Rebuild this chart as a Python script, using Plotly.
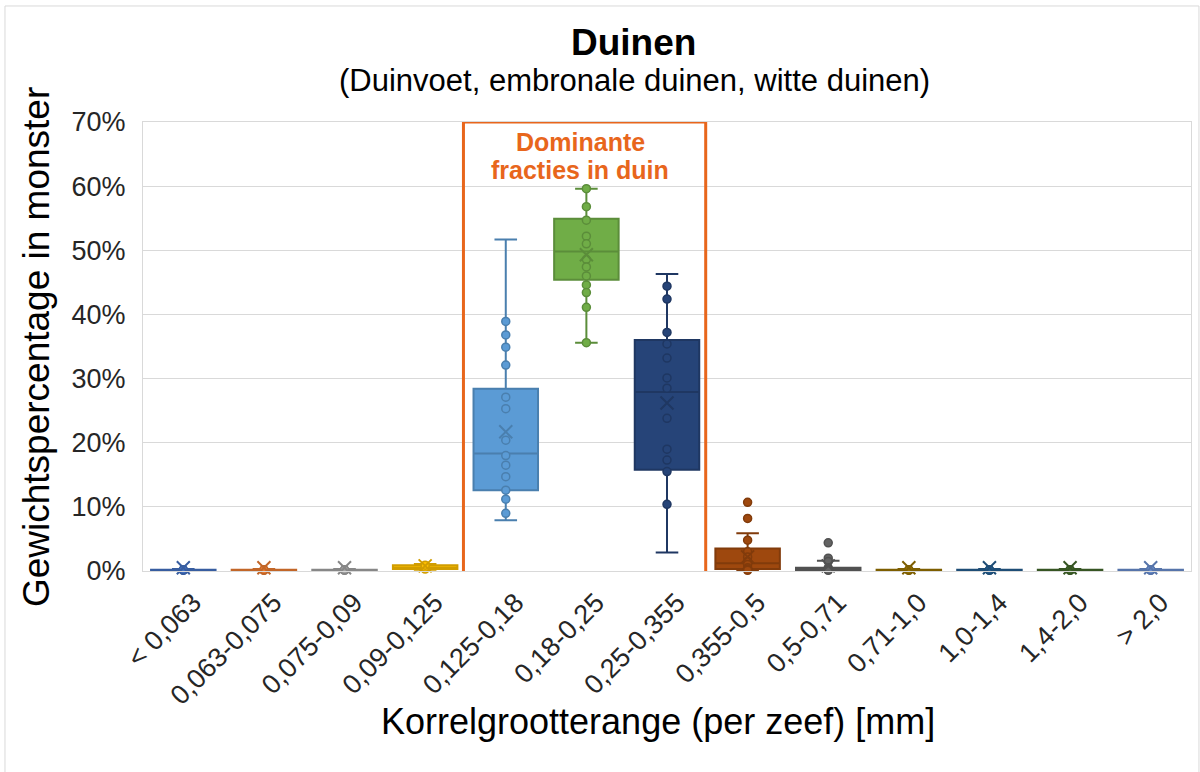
import plotly.graph_objects as go

categories = ["< 0,063", "0,063-0,075", "0,075-0,09", "0,09-0,125", "0,125-0,18",
              "0,18-0,25", "0,25-0,355", "0,355-0,5", "0,5-0,71", "0,71-1,0",
              "1,0-1,4", "1,4-2,0", "> 2,0"]
colors = ["#4472C4", "#ED7D31", "#A5A5A5", "#FFC000", "#5B9BD5", "#70AD47", "#264478",
          "#9E480E", "#636363", "#997300", "#255E91", "#43682B", "#698ED0"]

# box statistics (fraction of weight)
lower_whisker = [0.0, 0.0, 0.0, 0.002, 0.079, 0.356, 0.029, 0.0, 0.0, 0.0, 0.0, 0.0, 0.0]
q1 = [0.0008, 0.0008, 0.0008, 0.003, 0.126, 0.454, 0.158, 0.003, 0.0008, 0.0008, 0.0008, 0.0008, 0.0008]
median = [0.0012, 0.0012, 0.0012, 0.005, 0.183, 0.498, 0.279, 0.012, 0.002, 0.0012, 0.0012, 0.0012, 0.0012]
q3 = [0.0018, 0.0018, 0.0018, 0.009, 0.284, 0.549, 0.360, 0.035, 0.005, 0.0018, 0.0018, 0.0018, 0.0018]
upper_whisker = [0.003, 0.003, 0.003, 0.011, 0.517, 0.596, 0.463, 0.059, 0.016, 0.003, 0.003, 0.003, 0.003]
means = [0.005, 0.005, 0.005, 0.008, 0.217, 0.493, 0.262, 0.022, 0.008, 0.005, 0.005, 0.005, 0.005]

points = [
    [0.001, 0.0015, 0.002],
    [0.001, 0.0015, 0.002],
    [0.001, 0.0015, 0.002],
    [0.003, 0.006, 0.009],
    [0.389, 0.368, 0.349, 0.321, 0.271, 0.253, 0.204, 0.180, 0.165, 0.147, 0.126, 0.112, 0.090],
    [0.596, 0.568, 0.547, 0.522, 0.510, 0.486, 0.474, 0.460, 0.446, 0.434, 0.411, 0.356],
    [0.444, 0.424, 0.372, 0.354, 0.332, 0.301, 0.285, 0.238, 0.190, 0.173, 0.155, 0.104],
    [0.107, 0.082, 0.048, 0.030, 0.022, 0.015, 0.010, 0.005, 0.003, 0.001],
    [0.044, 0.020, 0.015, 0.005, 0.003, 0.002, 0.001],
    [0.001, 0.0015, 0.002],
    [0.001, 0.0015, 0.002],
    [0.001, 0.0015, 0.002],
    [0.001, 0.0015, 0.002],
]


def darken(hexcol, f=0.8):
    h = hexcol.lstrip("#")
    r, g, b = (int(h[i:i + 2], 16) for i in (0, 2, 4))
    return "#%02X%02X%02X" % (int(r * f), int(g * f), int(b * f))


FONT = "Liberation Sans, Arial, sans-serif"
TXT = "#262626"
ORANGE = "#E8661C"

fig = go.Figure()
for i, cat in enumerate(categories):
    c = colors[i]
    d = darken(c, 0.82)
    fig.add_trace(go.Box(
        x=[cat], q1=[q1[i]], median=[median[i]], q3=[q3[i]],
        lowerfence=[lower_whisker[i]], upperfence=[upper_whisker[i]],
        boxpoints=False, fillcolor=c, line=dict(color=d, width=2),
        whiskerwidth=0.35, width=0.8, showlegend=False, hoverinfo="skip",
    ))
    fig.add_trace(go.Scatter(
        x=[cat] * len(points[i]), y=points[i], mode="markers",
        marker=dict(size=8, color=c, line=dict(color=d, width=1.5)),
        showlegend=False, cliponaxis=False, hoverinfo="skip",
    ))
    fig.add_trace(go.Scatter(
        x=[cat], y=[means[i]], mode="markers",
        marker=dict(symbol="x-thin-open", size=13, color=d, line=dict(color=d, width=2)),
        showlegend=False, cliponaxis=False, hoverinfo="skip",
    ))

# highlight rectangle
fig.add_shape(type="rect", xref="x", yref="y", x0=3.475, x1=6.48, y0=-0.006, y1=0.7,
              line=dict(color=ORANGE, width=3), fillcolor="rgba(0,0,0,0)", layer="above")
# outer chart border
fig.add_shape(type="rect", xref="paper", yref="paper", x0=-0.1317, x1=1.0076, y0=-0.5, y1=1.2584,
              line=dict(color="#D9D9D9", width=1), fillcolor="rgba(0,0,0,0)", layer="below")


def label(text, x, y, size, color=TXT, angle=0):
    fig.add_annotation(text=text, xref="paper", yref="paper", x=x, y=y, xanchor="center",
                       yanchor="middle", showarrow=False, textangle=angle,
                       font=dict(family=FONT, size=size, color=color))


label("<b>Dominante</b>", 0.417, 0.9555, 25, ORANGE)
label("<b>fracties in duin</b>", 0.417, 0.893, 25, ORANGE)
label("<b>Duinen</b>", 0.4676, 1.178, 37, "#000000")
label("(Duinvoet, embronale duinen, witte duinen)", 0.469, 1.0935, 31, "#000000")
label("Gewichtspercentage in monster", -0.1011, 0.4989, 37, "#000000", -90)
label("Korrelgrootterange (per zeef) [mm]", 0.4914, -0.3363, 36, "#000000")

fig.update_layout(
    width=1200, height=772,
    margin=dict(l=143, r=9, t=122, b=201),
    paper_bgcolor="white", plot_bgcolor="white",
    boxmode="overlay",
    font=dict(family=FONT, color=TXT),
    xaxis=dict(type="category", categoryorder="array", categoryarray=categories,
               tickangle=-45, tickfont=dict(size=27, color=TXT), showgrid=False,
               showline=True, linecolor="#D9D9D9", linewidth=1, mirror=True,
               range=[-0.5, 12.5], ticks="", ticklabelshift=10, ticklabelstandoff=4),
    yaxis=dict(range=[0, 0.7], dtick=0.1, tickformat=".0%", tickfont=dict(size=27, color=TXT),
               gridcolor="#D9D9D9", gridwidth=1, showline=True, linecolor="#D9D9D9",
               linewidth=1, mirror=True, zeroline=False, ticks="", ticklabelstandoff=11),
)

fig.write_html("out.html")
